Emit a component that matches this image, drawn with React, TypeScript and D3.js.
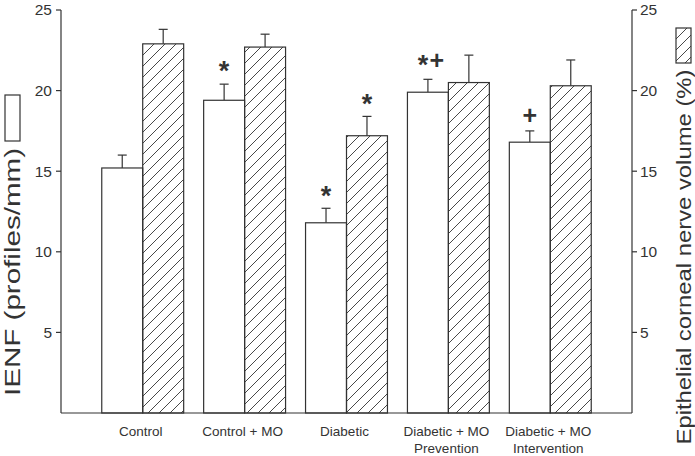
import React from "react";
import * as d3 from "d3";

const categories: string[][] = [
  ["Control"],
  ["Control + MO"],
  ["Diabetic"],
  ["Diabetic + MO", "Prevention"],
  ["Diabetic + MO", "Intervention"],
];
const ienf = [15.2, 19.4, 11.8, 19.9, 16.8];
const ienfErr = [0.8, 1.0, 0.9, 0.8, 0.7];
const volume = [22.9, 22.7, 17.2, 20.5, 20.3];
const volumeErr = [0.9, 0.8, 1.2, 1.7, 1.6];
const ienfMarks = ["", "*", "*", "*+", "+"];
const volumeMarks = ["", "", "*", "", ""];
const yTicks = [5, 10, 15, 20, 25];
const series = ["ienf", "volume"];

const W = 695;
const H = 456;
const left = 61;
const right = 632;
const top = 10;
const bottom = 413;
const INK = "#333";
const FONT = "'Liberation Sans', Arial, Helvetica, sans-serif";

function Mark({ m, cx, ye }: { m: string; cx: number; ye: number }) {
  const off = m.length > 1 ? 19 : m === "+" ? 15 : 17;
  const cy = ye - off;
  const step = 14;
  const chars = m.split("");
  const x0 = cx + 2 - ((chars.length - 1) * step) / 2;
  return (
    <g>
      {chars.map((ch, i) => {
        const fs = ch === "*" ? 27 : 25;
        const base = cy + (ch === "*" ? 0.49 : 0.34) * fs;
        return (
          <text
            key={i}
            x={chars.length > 1 ? x0 + i * step : cx}
            y={base}
            textAnchor="middle"
            fontSize={fs}
            fontWeight="bold"
            fill={INK}
          >
            {ch}
          </text>
        );
      })}
    </g>
  );
}

export default function App() {
  const keys = categories.map((c) => c.join(" "));
  const x = d3
    .scaleBand<string>()
    .domain(keys)
    .range([left, right])
    .paddingInner(20 / 102)
    .paddingOuter(0.4);
  const xs = d3.scaleBand<string>().domain(series).range([0, x.bandwidth()]).padding(0);
  const yL = d3.scaleLinear().domain([0, 25]).range([bottom, top]);
  const yR = d3.scaleLinear().domain([0, 25]).range([bottom, top]);

  const bars = keys.flatMap((k, i) => [
    { k, s: "ienf", v: ienf[i], e: ienfErr[i], m: ienfMarks[i], y: yL },
    { k, s: "volume", v: volume[i], e: volumeErr[i], m: volumeMarks[i], y: yR },
  ]);

  return (
    <div style={{ position: "absolute", left: 0, top: 0 }}>
      <svg width={W} height={H} style={{ display: "block", background: "#fff" }} fontFamily={FONT}>
        <defs>
          <pattern id="hatch" patternUnits="userSpaceOnUse" width={11} height={11}>
            <path
              d="M-3,3 L3,-3 M0,11 L11,0 M8,14 L14,8"
              stroke={INK}
              strokeWidth={0.9}
              fill="none"
            />
          </pattern>
        </defs>

        {bars.map((b, i) => {
          const bx = (x(b.k) ?? 0) + (xs(b.s) ?? 0);
          const bw = xs.bandwidth();
          const yt = b.y(b.v);
          const ye = b.y(b.v + b.e);
          const cx = bx + bw / 2;
          return (
            <g key={i}>
              <line x1={cx} x2={cx} y1={yt} y2={ye} stroke={INK} strokeWidth={1.2} />
              <line x1={cx - 4.5} x2={cx + 4.5} y1={ye} y2={ye} stroke={INK} strokeWidth={1.2} />
              <rect
                x={bx}
                y={yt}
                width={bw}
                height={bottom - yt}
                fill={b.s === "ienf" ? "#fff" : "url(#hatch)"}
                stroke={INK}
                strokeWidth={1.2}
              />
              {b.m && <Mark m={b.m} cx={cx} ye={ye} />}
            </g>
          );
        })}

        <line x1={left} x2={right} y1={bottom} y2={bottom} stroke={INK} strokeWidth={1.2} />
        <line x1={left} x2={left} y1={bottom} y2={top} stroke={INK} strokeWidth={1.2} />
        <line x1={right} x2={right} y1={bottom} y2={top} stroke={INK} strokeWidth={1.2} />
        {yTicks.map((t) => (
          <g key={"l" + t}>
            <line x1={left - 5} x2={left} y1={yL(t)} y2={yL(t)} stroke={INK} strokeWidth={1.2} />
            <text x={left - 9} y={yL(t)} dy="0.35em" textAnchor="end" fontSize={15.5} fill={INK}>
              {t}
            </text>
          </g>
        ))}
        {yTicks.map((t) => (
          <g key={"r" + t}>
            <line x1={right} x2={right + 5} y1={yR(t)} y2={yR(t)} stroke={INK} strokeWidth={1.2} />
            <text x={right + 8} y={yR(t)} dy="0.35em" textAnchor="start" fontSize={15.5} fill={INK}>
              {t}
            </text>
          </g>
        ))}

        {categories.map((c, i) => (
          <text key={i} y={436} textAnchor="middle" fontSize={13.5} fill={INK}>
            {c.map((line, j) => (
              <tspan key={j} x={(x(keys[i]) ?? 0) + x.bandwidth() / 2 - 2} dy={j === 0 ? 0 : 17}>
                {line}
              </tspan>
            ))}
          </text>
        ))}

        <rect x={5} y={95} width={15} height={46} fill="#fff" stroke={INK} strokeWidth={1.2} />
        <text
          transform={`translate(20,272) rotate(-90)`}
          textAnchor="middle"
          fontSize={22}
          fill={INK}
          textLength={248}
          lengthAdjust="spacingAndGlyphs"
        >
          IENF (profiles/mm)
        </text>

        <rect x={676} y={28} width={15} height={35} fill="url(#hatch)" stroke={INK} strokeWidth={1.2} />
        <text
          transform={`translate(691,257) rotate(-90)`}
          textAnchor="middle"
          fontSize={21}
          fill={INK}
          textLength={375}
          lengthAdjust="spacingAndGlyphs"
        >
          Epithelial corneal nerve volume (%)
        </text>
      </svg>
    </div>
  );
}
